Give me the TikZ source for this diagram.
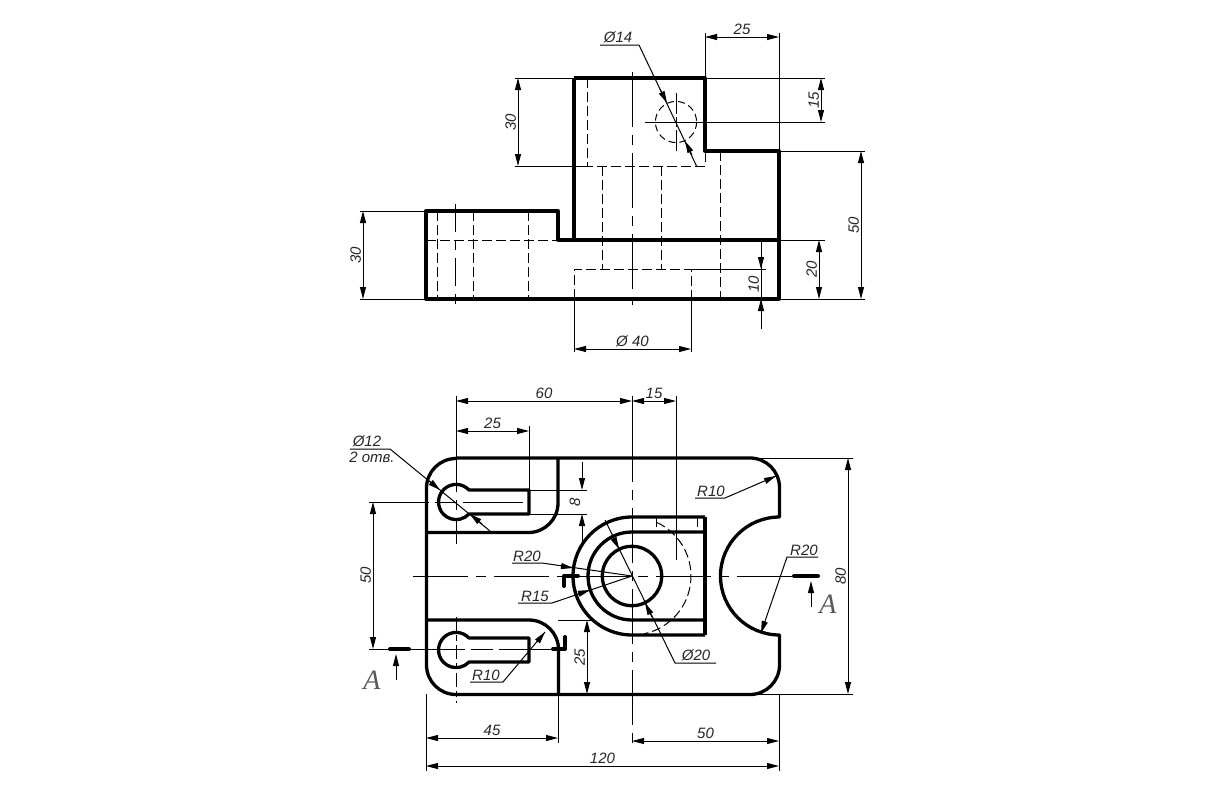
\documentclass[tikz,border=0pt]{standalone}
\usepackage{fontspec}
\setmainfont{Liberation Sans}
\newfontfamily\markfont{Liberation Serif}
\usetikzlibrary{arrows.meta}
\tikzset{
  thickline/.style={line width=3.3pt, line join=round},
  thinline/.style={line width=1pt},
  hiddenline/.style={line width=1pt, dash pattern=on 10pt off 4pt},
  centerline/.style={line width=1pt, dash pattern=on 55pt off 8pt on 10pt off 8pt},
  dimboth/.style={thinline, {Triangle[length=12pt,width=6pt]}-{Triangle[length=12pt,width=6pt]}},
  dimtip/.style={thinline, -{Triangle[length=12pt,width=6pt]}},
  sectionmark/.style={line width=4pt, line cap=round},
  dimtext/.style={font=\itshape\fontsize{15}{17}\selectfont, inner sep=1.5pt, text=black!85},
  dimtextv/.style={dimtext, rotate=90, anchor=south},
  marktext/.style={font=\markfont\itshape\fontsize{28}{30}\selectfont, text=black!65, inner sep=0pt}
}
\begin{document}
\begin{tikzpicture}[x=1pt, y=1pt, yscale=-1]
    \useasboundingbox (0,0) rectangle (1224,788);

    % upper view
    \draw[thickline] (574,78) -- (705,78) -- (705,151) -- (779,151) -- (779,299) -- (426,299) -- (426,211) -- (558,211) -- (558,240) -- (779,240);
    \draw[thickline] (574,78) -- (574,240);
    \draw[hiddenline] (587,78) -- (587,166) -- (705,166) -- (705,151);
    \draw[hiddenline] (602,166) -- (602,269);
    \draw[hiddenline] (661,166) -- (661,269);
    \draw[hiddenline] (720,151) -- (720,299);
    \draw[hiddenline] (426,240) -- (558,240);
    \draw[hiddenline] (437,211) -- (437,299);
    \draw[hiddenline] (473,211) -- (473,299);
    \draw[hiddenline] (528,211) -- (528,299);
    \draw[hiddenline] (574,299) -- (574,269) -- (691,269) -- (691,299);
    \draw[centerline] (632,72) -- (632,305);
    \draw[centerline, dash pattern=on 28pt off 8pt on 10pt off 8pt] (455,204) -- (455,305);
    \draw[hiddenline, dash pattern=on 7pt off 4pt] (676,122) circle[radius=20.6];
    \draw[thinline] (645,122) -- (825,122);
    \draw[thinline, dash pattern=on 21pt off 3pt on 10pt off 3pt] (676,93) -- (676,153);

    \draw[thinline] (515,78) -- (574,78);
    \draw[thinline] (515,166) -- (587,166);
    \draw[dimboth] (518,78) -- (518,166) node[midway, dimtextv] (dimThirtyA) {30};
    \draw[thinline] (360,211) -- (426,211);
    \draw[thinline] (360,299) -- (426,299);
    \draw[dimboth] (363,211) -- (363,299) node[midway, dimtextv] (dimThirtyB) {30};
    \draw[thinline] (705,78) -- (705,33);
    \draw[thinline] (779,151) -- (779,33);
    \draw[dimboth] (705,37) -- (779,37) node[midway, above, dimtext] (dimTwentyFive) {25};
    \draw[thinline] (705,78) -- (825,78);
    \draw[dimboth] (821,78) -- (821,122) node[midway, dimtextv] (dimFifteenA) {15};
    \draw[thinline] (779,151) -- (865,151);
    \draw[thinline] (779,240) -- (825,240);
    \draw[thinline] (779,299) -- (865,299);
    \draw[dimboth] (861,151) -- (861,299) node[midway, dimtextv] (dimFiftyA) {50};
    \draw[dimboth] (819,240) -- (819,299) node[midway, dimtextv] (dimTwentyA) {20};
    \draw[thinline] (691,269) -- (766,269);
    \draw[thinline] (761,240) -- (761,329) node[midway, dimtextv] (dimTen) {10};
    \draw[dimtip] (761,253) -- (761,269);
    \draw[dimtip] (761,315) -- (761,299);
    \draw[thinline] (574,299) -- (574,352);
    \draw[thinline] (691,299) -- (691,352);
    \draw[dimboth] (574,349) -- (691,349) node[midway, above, dimtext] (dimDiamForty) {Ø 40};
    \draw[thinline] (600,45) -- (639,45) -- (697,167);
    \node[dimtext, anchor=south] (dimDiamFourteen) at (618,45) {Ø14};
    \draw[dimtip] (660,89) -- (667,103);
    \draw[dimtip] (692,155) -- (685,141);

    % lower view
    \draw[thickline] (456,458) -- (750,458) arc[start angle=-90, end angle=0, radius=29.5] -- (779.5,517) arc[start angle=-90, end angle=-270, radius=59] -- (779.5,665) arc[start angle=0, end angle=90, radius=29.5] -- (456,694.5) arc[start angle=90, end angle=180, radius=29.5] -- (426.5,488) arc[start angle=180, end angle=270, radius=29.5] -- cycle;
    \draw[thickline] (558,458) -- (558,503) arc[start angle=0, end angle=90, radius=29.5] -- (426,532.5);
    \draw[thickline] (426,620) -- (529,620) arc[start angle=-90, end angle=0, radius=29.5] -- (558.5,694);
    \draw[thickline] (705,517) -- (632,517) arc[start angle=-90, end angle=-270, radius=59] -- (705,635);
    \draw[thickline] (705,532) -- (632,532) arc[start angle=-90, end angle=-270, radius=44] -- (705,620);
    \draw[thickline] (705,517) -- (705,635);
    \draw[thickline] (632,576) circle[radius=29.7];
    \draw[thickline] (529,490) -- (469,490) arc[start angle=-43, end angle=-317, radius=17.6] -- (529,514) -- cycle;
    \draw[thickline] (529,638) -- (469,638) arc[start angle=-43, end angle=-317, radius=17.6] -- (529,662) -- cycle;
    \draw[hiddenline, dash pattern=on 9pt off 4pt] (632,576) ++(-65:59) arc[start angle=-65, end angle=78, radius=59];
    \draw[hiddenline] (656,517) -- (656,532);
    \draw[hiddenline] (697,517) -- (697,532);

    \draw[centerline] (413,576) -- (792,576);
    \draw[thinline] (632,396) -- (632,482);
    \draw[centerline, dash phase=55pt] (632,482) -- (632,745);
    \draw[centerline, dash pattern=on 96pt off 8pt on 10pt off 8pt] (456,396) -- (456,544);
    \draw[centerline, dash pattern=on 14pt off 4pt on 6pt off 4pt] (456,617) -- (456,703);
    \draw[centerline, dash pattern=on 60pt off 6pt on 22pt off 6pt] (369,502) -- (529,502);
    \draw[centerline, dash pattern=on 96pt off 6pt on 22pt off 6pt] (369,649) -- (552,649);

    % section marks
    \draw[sectionmark] (390,649) -- (409,649);
    \draw[dimtip] (396,680) -- (396,654);
    \node[marktext] (markAleft) at (372,680) {A};
    \draw[sectionmark] (794,576) -- (818,576);
    \draw[dimtip] (811,607) -- (811,581);
    \node[marktext] (markAright) at (828,604) {A};
    \draw[sectionmark, line join=round] (564,586) -- (564,576) -- (578,576);
    \draw[sectionmark, line join=round] (553,649) -- (565,649) -- (565,637);

    \draw[dimboth] (456,401) -- (632,401) node[midway, above, dimtext] (dimSixty) {60};
    \draw[dimboth] (632,401) -- (676,401) node[midway, above, dimtext] (dimFifteenB) {15};
    \draw[thinline] (676,396) -- (676,560);
    \draw[dimboth] (456,431) -- (529,431) node[midway, above, dimtext] (dimTwentyFiveA) {25};
    \draw[thinline] (529,426) -- (529,490);
    \draw[thinline] (529,490) -- (587,490);
    \draw[thinline] (529,514) -- (587,514);
    \draw[dimtip] (582,462) -- (582,490);
    \draw[dimtip] (582,543) -- (582,514);
    \node[dimtext, rotate=90, anchor=south] (dimEight) at (582,502) {8};
    \draw[dimboth] (373,502) -- (373,649) node[midway, dimtextv] (dimFiftyB) {50};
    \draw[thinline] (558,620) -- (591,620);
    \draw[dimboth] (587,620) -- (587,694) node[midway, dimtextv] (dimTwentyFiveB) {25};
    \draw[thinline] (426,694) -- (426,771);
    \draw[thinline] (558,694) -- (558,743);
    \draw[thinline] (779,694) -- (779,771);
    \draw[dimboth] (426,738) -- (558,738) node[midway, above, dimtext] (dimFortyFive) {45};
    \draw[dimboth] (632,741) -- (779,741) node[midway, above, dimtext] (dimFiftyC) {50};
    \draw[dimboth] (426,766) -- (779,766) node[midway, above, dimtext] (dimOneTwenty) {120};
    \draw[thinline] (750,458) -- (853,458);
    \draw[thinline] (750,694) -- (853,694);
    \draw[dimboth] (848,458) -- (848,694) node[midway, dimtextv] (dimEighty) {80};

    % leaders
    \draw[thinline] (350,449) -- (390,449) -- (490,531);
    \node[dimtext, anchor=south] (dimDiamTwelve) at (367,449) {Ø12};
    \node[dimtext, anchor=north] (dimHoles) at (372,450) {2 отв.};
    \draw[dimtip] (428,480) -- (440,490);
    \draw[dimtip] (482,524) -- (470,514);
    \draw[thinline] (695,498) -- (725,498) -- (776,476);
    \node[dimtext, anchor=south] (dimRadTenA) at (711,498) {R10};
    \draw[dimtip] (765,481) -- (776,476);
    \draw[thinline] (818,557) -- (787,557) -- (761,633);
    \node[dimtext, anchor=south] (dimRadTwentyA) at (804,557) {R20};
    \draw[dimtip] (765,621) -- (761,633);
    \draw[thinline] (716,663) -- (675,663) -- (605,520);
    \node[dimtext, anchor=south] (dimDiamTwenty) at (696,663) {Ø20};
    \draw[dimtip] (612,535) -- (619,549);
    \draw[dimtip] (652,617) -- (645,603);
    \draw[thinline] (512,563) -- (542,563) -- (632,576);
    \node[dimtext, anchor=south] (dimRadTwentyB) at (527,563) {R20};
    \draw[dimtip] (561,566) -- (573,568);
    \draw[thinline] (518,603) -- (552,603) -- (632,576);
    \node[dimtext, anchor=south] (dimRadFifteen) at (535,603) {R15};
    \draw[dimtip] (578,594) -- (590,590);
    \draw[thinline] (470,682) -- (503,682) -- (545,632);
    \node[dimtext, anchor=south] (dimRadTenB) at (486,682) {R10};
    \draw[dimtip] (537,642) -- (545,632);
    \end{tikzpicture}
\end{document}
